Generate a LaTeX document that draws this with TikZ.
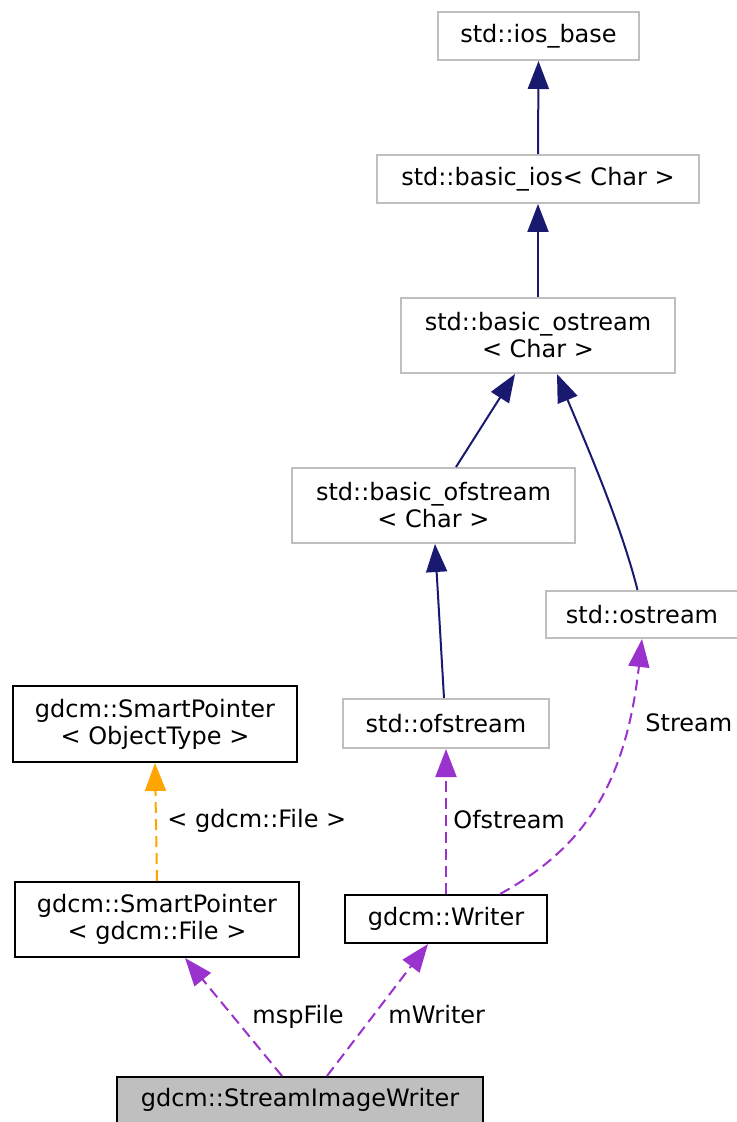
\documentclass[tikz,border=0pt]{standalone}
\usepackage{fontspec}
\setmainfont{DejaVu Sans}
\usetikzlibrary{arrows.meta}
\definecolor{navyc}{HTML}{191970}
\definecolor{purp}{HTML}{9A32CD}
\definecolor{orng}{HTML}{FFA500}
\definecolor{grayb}{HTML}{BFBFBF}
\begin{document}
\begin{tikzpicture}[x=0.5pt,y=-0.5pt,
  box/.style={rectangle, line width=1pt, inner sep=0pt, align=center, font=\fontsize{12}{13.5}\selectfont},
  stdbox/.style={box, draw=grayb},
  gdbox/.style={box, draw=black},
  inh/.style={draw=navyc, line width=1pt, -{Triangle[length=14pt,width=10.5pt]}},
  usage/.style={draw=purp, line width=1pt, dash pattern=on 5.5pt off 3pt, -{Triangle[length=14pt,width=10.5pt]}},
  tmpl/.style={draw=orng, line width=1pt, dash pattern=on 5.5pt off 3pt, -{Triangle[length=14pt,width=10.5pt]}},
  lbl/.style={font=\fontsize{12}{13.5}\selectfont, inner sep=0pt, anchor=base west}
]
\useasboundingbox (0,0) rectangle (737,1122);

\node[stdbox, minimum width=100.5pt, minimum height=24pt] (iosbase) at (538.5,36) {std::ios\_base};
\node[stdbox, minimum width=161pt, minimum height=24pt] (basicios) at (538,179) {std::basic\_ios< Char >};
\node[stdbox, minimum width=137pt, minimum height=37.5pt] (basicostream) at (538,335.5) {std::basic\_ostream\\< Char >};
\node[stdbox, minimum width=141.5pt, minimum height=37.5pt] (basicofstream) at (433.5,505.5) {std::basic\_ofstream\\< Char >};
\node[stdbox, minimum width=96pt, minimum height=23.5pt] (ostream) at (642,614.5) {std::ostream};
\node[stdbox, minimum width=103pt, minimum height=24.5pt] (ofstream) at (446,723.5) {std::ofstream};
\node[gdbox, minimum width=142pt, minimum height=38pt] (spobj) at (155,724) {gdcm::SmartPointer\\< ObjectType >};
\node[gdbox, minimum width=142pt, minimum height=37.5pt] (spfile) at (157,919.5) {gdcm::SmartPointer\\< gdcm::File >};
\node[gdbox, minimum width=101pt, minimum height=24pt] (writer) at (446,919) {gdcm::Writer};
\node[gdbox, fill=grayb, minimum width=183pt, minimum height=23pt] (siw) at (300,1100) {gdcm::StreamImageWriter};

\draw[inh] (basicios.north) -- (iosbase.south);
\draw[inh] (basicostream.north) -- (basicios.south);
\draw[inh] ([xshift=11.25pt]basicofstream.north) -- ([xshift=-11.5pt]basicostream.south);
\draw[inh] ([xshift=-2.25pt]ostream.north) .. controls (620,520) and (580,430) .. ([xshift=9.5pt]basicostream.south);
\draw[inh] ([xshift=-1pt]ofstream.north) -- ([xshift=0.75pt]basicofstream.south);
\draw[usage] (writer.north) -- (ofstream.south);
\draw[usage] ([xshift=27pt]writer.north) .. controls (580,850) and (625,790) .. (ostream.south);
\draw[tmpl] (spfile.north) -- (spobj.south);
\draw[usage] ([xshift=-9pt]siw.north) -- ([xshift=14pt]spfile.south);
\draw[usage] ([xshift=13.5pt]siw.north) -- ([xshift=-9pt]writer.south);

\node[lbl] (lstream) at (645,731) {Stream};
\node[lbl] (lofs) at (453,828) {Ofstream};
\node[lbl] (lfile) at (167,827) {< gdcm::File >};
\node[lbl] (lmsp) at (252,1023) {mspFile};
\node[lbl] (lmw) at (388,1023) {mWriter};
\end{tikzpicture}
\end{document}
